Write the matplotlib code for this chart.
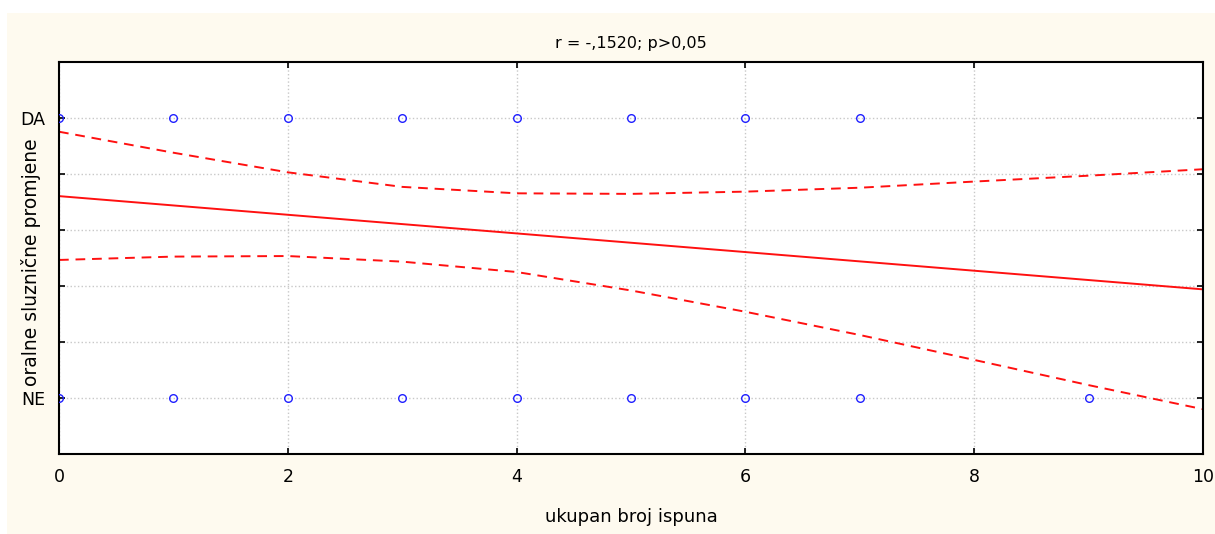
import matplotlib
matplotlib.use('Agg')
import matplotlib.pyplot as plt
from matplotlib.patches import Rectangle

plt.rcParams['font.family'] = ['DejaVu Sans']

# Data
da_x = [0, 1, 2, 3, 4, 5, 6, 7]
ne_x = [0, 1, 2, 3, 4, 5, 6, 7, 9]

fit_x = [0, 10]
fit_y = [0.721, 0.388]

band_x = [0, 1, 2, 3, 4, 5, 6, 7, 8, 9, 10]
band_upper = [0.951, 0.876, 0.806, 0.754, 0.731, 0.729, 0.737, 0.751, 0.773, 0.794, 0.817]
band_lower = [0.493, 0.505, 0.507, 0.487, 0.450, 0.384, 0.308, 0.225, 0.136, 0.046, -0.040]

y_labels = {0: 'NE', 1: 'DA'}
title = 'r = -,1520; p>0,05'
x_label = 'ukupan broj ispuna'
y_label = 'oralne sluznične promjene'

W, H = 1215, 534
fig = plt.figure(figsize=(W / 100, H / 100), dpi=100)
fig.patch.set_facecolor('white')
fig.patches.append(Rectangle((7 / W, 0), 1 - 7 / W, 1 - 13 / H, transform=fig.transFigure,
                             facecolor='#FEFAEF', edgecolor='none', zorder=-10))

ax = fig.add_axes([59 / W, 1 - 454 / H, (1203 - 59) / W, (454 - 62) / H])
ax.set_facecolor('white')

ax.plot(da_x, [1] * len(da_x), 'o', mfc='none', mec='#2020FF', ms=5.5, mew=1.0, zorder=3)
ax.plot(ne_x, [0] * len(ne_x), 'o', mfc='none', mec='#2020FF', ms=5.5, mew=1.0, zorder=3)

ax.plot(fit_x, fit_y, color='#FF1010', lw=1.4, zorder=2)
ax.plot(band_x, band_upper, color='#FF1010', lw=1.4, ls=(0, (5, 3.5)), zorder=2)
ax.plot(band_x, band_lower, color='#FF1010', lw=1.4, ls=(0, (5, 3.5)), zorder=2)

ax.set_xlim(0, 10)
ax.set_ylim(-0.2, 1.2)
ax.set_xticks([0, 2, 4, 6, 8, 10])
ax.set_yticks([0, 0.2, 0.4, 0.6, 0.8, 1.0])
ax.set_yticklabels([y_labels.get(round(v, 1), '') for v in [0, 0.2, 0.4, 0.6, 0.8, 1.0]])

ax.grid(True, color='#C8C8C8', ls=':', lw=1.0)
ax.set_axisbelow(True)
for s in ax.spines.values():
    s.set_linewidth(1.5)
ax.tick_params(direction='in', length=4, width=1.2, top=True, right=True,
               labelsize=12.5, pad=10)

ax.set_title(title, fontsize=11.5, pad=10)
ax.set_xlabel(x_label, fontsize=13)
ax.set_ylabel(y_label, fontsize=13.5)
ax.xaxis.set_label_coords(0.5, -0.138)
ax.yaxis.set_label_coords(-0.016, 0.49)

fig.savefig('out.png', dpi=100)
